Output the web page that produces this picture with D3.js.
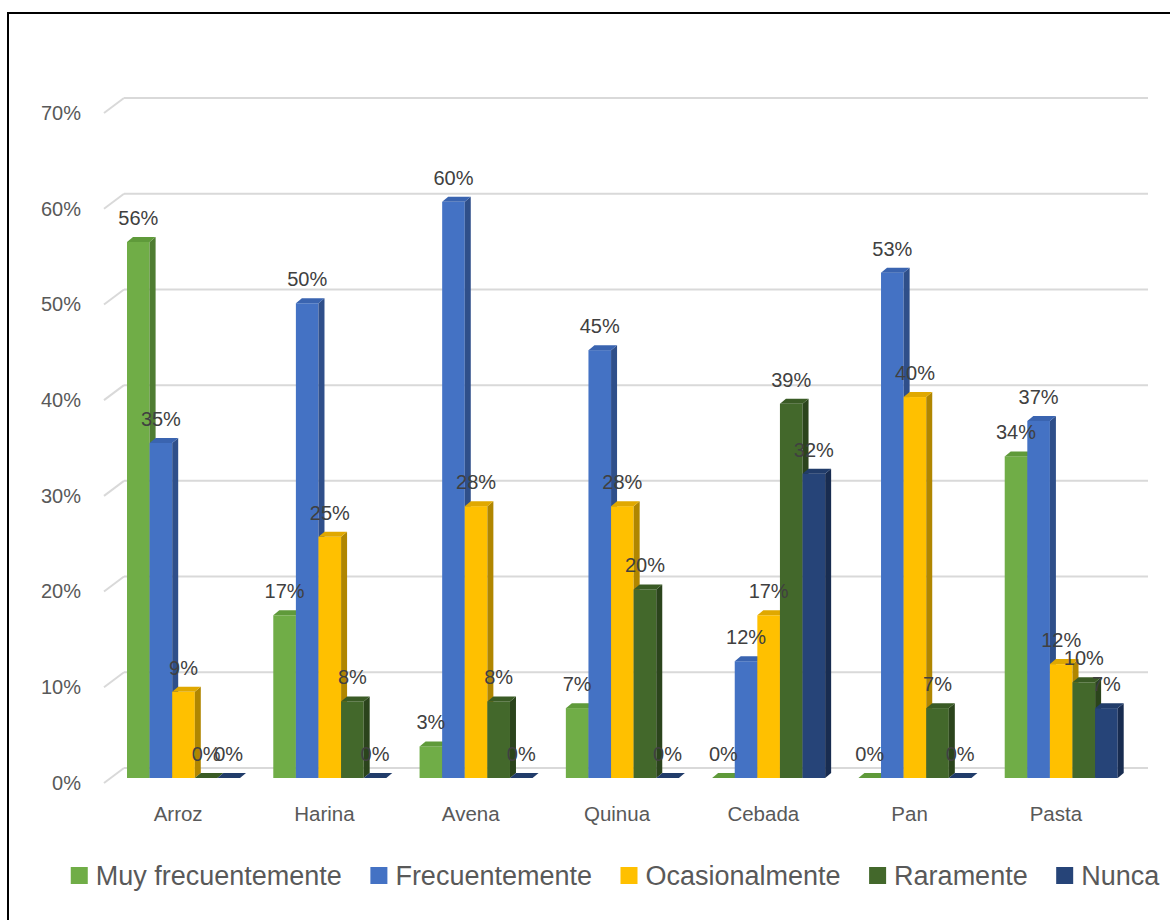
<!DOCTYPE html>
<html><head><meta charset="utf-8">
<script src="https://cdn.jsdelivr.net/npm/d3@7"></script>
<style>
html,body{margin:0;padding:0;background:#fff;}
svg{display:block;font-family:"Liberation Sans",Arial,sans-serif;}
</style></head>
<body>
<svg id="chart" width="1170" height="920"></svg>
<script>
// ---- data ----
const categories = ["Arroz","Harina","Avena","Quinua","Cebada","Pan","Pasta"];
const seriesNames = ["Muy frecuentemente","Frecuentemente","Ocasionalmente","Raramente","Nunca"];
const muyFrecuentemente = [0.56, 0.17, 0.033, 0.073, 0, 0, 0.336];
const frecuentemente    = [0.35, 0.496, 0.602, 0.447, 0.122, 0.528, 0.373];
const ocasionalmente    = [0.09, 0.252, 0.284, 0.284, 0.17, 0.398, 0.119];
const raramente         = [0, 0.08, 0.08, 0.197, 0.391, 0.073, 0.10];
const nunca             = [0, 0, 0, 0, 0.318, 0, 0.073];
const yTicks = [0,0.1,0.2,0.3,0.4,0.5,0.6,0.7];

const seriesValues = [muyFrecuentemente, frecuentemente, ocasionalmente, raramente, nunca];
const colors = {
  front: ["#70AD47","#4472C4","#FFC000","#43682B","#264478"],
  top:   ["#5f9a3a","#3a64b0","#e0a800","#3a5b25","#213c6a"],
  side:  ["#4f7d32","#2f4f8a","#b08600","#2b441c","#182c50"]
};

const svg = d3.select("#chart");
svg.append("rect").attr("x",0).attr("y",0).attr("width",1170).attr("height",920).attr("fill","#fff");
svg.append("rect").attr("x",8).attr("y",13).attr("width",1300).attr("height",1000)
  .attr("fill","none").attr("stroke","#000").attr("stroke-width",2);

// front plane scales
const x = d3.scaleBand().domain(categories).range([104,1128]);
const y = d3.scaleLinear().domain([0,0.7]).range([783,113]);
const wallDx = 20, wallDy = -15;     // back wall offset
const barDy = -5;                    // bar front face offset from front plane
const depthDx = 6, depthDy = -5;     // bar depth
const xs = d3.scaleBand().domain(seriesNames).range([0,113]);
const groupOffset = 23;

// gridlines (back wall + left side slant)
const grid = svg.append("g");
yTicks.forEach(t => {
  grid.append("line")
    .attr("x1", x.range()[0]+wallDx).attr("x2", x.range()[1]+wallDx)
    .attr("y1", y(t)+wallDy).attr("y2", y(t)+wallDy)
    .attr("stroke","#d9d9d9").attr("stroke-width",2);
  grid.append("line")
    .attr("x1", x.range()[0]).attr("y1", y(t))
    .attr("x2", x.range()[0]+wallDx).attr("y2", y(t)+wallDy)
    .attr("stroke","#d9d9d9").attr("stroke-width",2);
});

// y axis labels
const yAxis = d3.axisLeft(y).tickValues(yTicks).tickFormat(d3.format(".0%")).tickSize(0).tickPadding(0);
const yg = svg.append("g").attr("transform","translate(81,0)").call(yAxis);
yg.select(".domain").remove();
yg.selectAll("text").attr("font-size",20).attr("fill","#595959")
  .attr("font-family","'Liberation Sans',Arial,sans-serif");

// bars
const bars = svg.append("g");
const labels = [];
categories.forEach((c, ci) => {
  seriesNames.forEach((s, si) => {
    const v = seriesValues[si][ci];
    const x0 = x(c) + groupOffset + xs(s);
    const w = xs.bandwidth();
    const yb = y(0) + barDy;
    const yt = y(v) + barDy;
    const g = bars.append("g");
    if (yb - yt > 0.01) {
      g.append("rect").attr("x",x0).attr("y",yt).attr("width",w).attr("height",yb-yt)
        .attr("fill",colors.front[si]);
      g.append("path").attr("d",
        `M${x0+w},${yt}L${x0+w+depthDx},${yt+depthDy}L${x0+w+depthDx},${yb+depthDy}L${x0+w},${yb}Z`)
        .attr("fill",colors.side[si]);
    }
    g.append("path").attr("d",
      `M${x0},${yt}L${x0+w},${yt}L${x0+w+depthDx},${yt+depthDy}L${x0+depthDx},${yt+depthDy}Z`)
      .attr("fill",colors.top[si]);
    labels.push({x: x0 + w/2, y: yt - 17, t: d3.format(".0%")(v)});
  });
});

// data labels
svg.append("g").selectAll("text").data(labels).join("text")
  .attr("x",d=>d.x).attr("y",d=>d.y).attr("text-anchor","middle")
  .attr("font-size",20).attr("fill","#404040").text(d=>d.t);

// category labels
svg.append("g").selectAll("text").data(categories).join("text")
  .attr("x",d=>x(d)+x.bandwidth()/2+1).attr("y",821).attr("text-anchor","middle")
  .attr("font-size",20.5).attr("fill","#595959").text(d=>d);

// legend
const leg = svg.append("g");
const sq = 17, gapText = 8, gapItem = 28.5, legFont = 27;
const items = seriesNames.map((s,i) => {
  const g = leg.append("g");
  g.append("rect").attr("width",sq).attr("height",sq).attr("y",867).attr("fill",colors.front[i]);
  const t = g.append("text").attr("x",sq+gapText).attr("y",885).attr("font-size",legFont)
    .attr("fill","#595959").text(s);
  return {g, w: sq+gapText+t.node().getComputedTextLength()};
});
const total = d3.sum(items, d=>d.w) + gapItem*(items.length-1);
let cx = 615 - total/2;
items.forEach(it => { it.g.attr("transform",`translate(${cx},0)`); cx += it.w + gapItem; });
</script>
</body></html>
